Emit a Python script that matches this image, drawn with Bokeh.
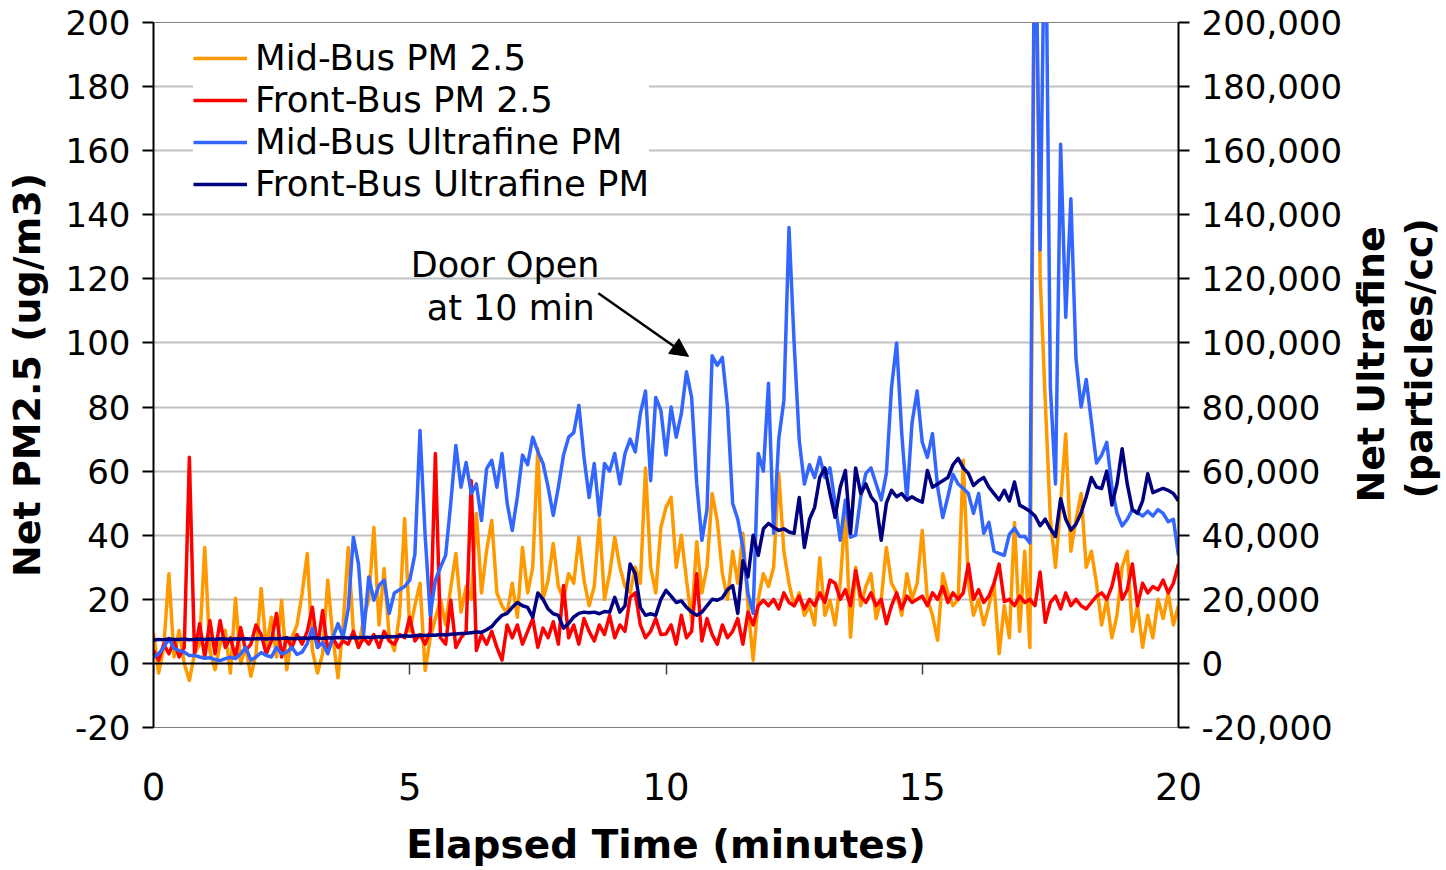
import numpy as np
from bokeh.plotting import figure
from bokeh.layouts import row
from bokeh.models import (Range1d, LinearAxis, FixedTicker, NumeralTickFormatter,
                          Legend, LegendItem, Label, Arrow, NormalHead, ColumnDataSource)
from bokeh.embed import file_html
from bokeh.resources import INLINE

# ---------------- data ----------------
elapsed_min = np.linspace(0, 20, 201)

mid_pm25 = [
    9.4, -3.0, 5.0, 28.0, 2.0, 10.3, 0.0, -5.3, 3.0, 6.0,
    36.2, 4.0, -2.0, 6.0, 10.3, -3.0, 20.3, 0.0, 5.0, -4.0,
    3.0, 23.4, 5.0, 14.4, 2.0, 19.7, -2.0, 8.0, 12.0, 21.8,
    34.3, 4.0, -3.0, 3.0, 26.0, 8.0, -4.5, 12.0, 36.2, 10.0,
    5.0, 14.0, 20.0, 42.4, 12.0, 29.6, 8.0, 4.0, 15.0, 45.2,
    10.0, 18.0, 25.0, -2.2, 8.0, 14.0, 20.0, 12.0, 23.7, 34.3,
    16.0, 24.0, 20.0, 46.8, 22.0, 35.3, 44.6, 22.0, 18.0, 15.6,
    25.0, 14.4, 36.2, 22.0, 30.0, 67.0, 20.0, 26.0, 37.4, 24.0,
    20.0, 28.0, 25.0, 39.4, 26.0, 18.0, 24.0, 45.2, 20.0, 28.0,
    39.4, 30.0, 24.0, 22.0, 30.0, 25.0, 61.0, 30.0, 22.0, 42.4,
    48.7, 51.8, 30.0, 40.0, 26.0, 13.4, 38.0, 22.0, 30.0, 53.0,
    44.6, 28.0, 20.0, 35.0, 25.0, 40.6, 18.0, 1.0, 20.0, 28.0,
    24.0, 30.0, 59.3, 35.0, 25.0, 18.0, 22.0, 15.0, 18.0, 12.0,
    33.0, 15.0, 19.7, 12.0, 25.0, 47.7, 8.2, 30.0, 18.0, 24.0,
    28.0, 14.0, 20.0, 36.2, 25.0, 22.0, 15.0, 28.0, 20.0, 25.0,
    41.5, 20.0, 15.0, 7.2, 28.0, 22.0, 18.0, 20.0, 63.4, 25.0,
    15.0, 20.0, 12.0, 18.0, 25.0, 3.0, 18.0, 8.0, 44.0, 10.0,
    35.0, 5.0, 250.0, 121.0, 82.0, 45.0, 30.0, 50.0, 71.6, 35.0,
    45.0, 53.0, 30.0, 35.0, 25.0, 12.0, 20.0, 8.0, 15.0, 30.0,
    35.0, 10.0, 18.0, 5.0, 15.0, 8.0, 20.0, 14.0, 22.0, 12.0, 18.0,
]

front_pm25 = [
    4.1, 1.0, 6.0, 3.0, 7.0, 2.0, 5.0, 64.3, 3.0, 12.4,
    2.0, 13.4, 3.0, 13.4, 5.0, 8.0, 2.0, 11.2, 4.0, 6.0,
    12.0, 9.0, 3.0, 7.0, 15.6, 2.0, 8.0, 5.0, 9.0, 6.0,
    10.0, 17.5, 5.0, 16.5, 4.0, 8.0, 5.0, 7.0, 6.0, 10.0,
    5.0, 8.0, 6.0, 9.0, 5.0, 10.0, 7.0, 6.0, 9.0, 8.0,
    14.4, 7.0, 9.0, 6.0, 10.0, 65.5, 8.0, 6.0, 19.7, 5.0,
    8.0, 10.0, 57.0, 4.0, 9.0, 6.0, 10.0, 5.0, 1.0, 12.0,
    8.0, 12.0, 6.0, 10.0, 14.0, 5.0, 11.0, 8.0, 13.0, 6.0,
    24.3, 8.0, 12.0, 6.0, 14.0, 10.0, 7.0, 12.0, 9.0, 15.0,
    8.0, 12.0, 10.0, 20.6, 22.0, 12.0, 8.0, 10.0, 14.0, 9.0,
    9.2, 12.0, 6.0, 15.0, 8.0, 10.0, 28.0, 7.0, 14.0, 9.0,
    6.0, 12.0, 8.0, 10.0, 14.0, 6.0, 16.0, 12.0, 18.0, 19.7,
    18.0, 20.0, 17.0, 22.0, 19.0, 18.0, 21.0, 17.0, 20.0, 18.0,
    22.0, 19.0, 26.0, 25.0, 20.0, 23.0, 18.0, 29.0, 21.0, 19.0,
    22.0, 18.0, 20.0, 12.4, 18.0, 22.0, 17.0, 21.0, 19.0, 20.0,
    21.0, 18.0, 22.0, 20.0, 24.0, 19.0, 22.0, 20.0, 22.0, 31.0,
    20.0, 23.0, 19.0, 21.0, 25.0, 31.0, 19.3, 20.0, 18.0, 21.0,
    19.0, 20.0, 18.0, 28.5, 12.8, 19.0, 21.0, 17.0, 22.0, 18.0,
    20.0, 18.0, 17.0, 19.0, 21.0, 22.0, 20.0, 24.0, 31.0, 20.0,
    23.0, 31.0, 18.0, 25.0, 22.0, 24.0, 23.0, 26.0, 22.0, 25.0, 31.0,
]

# ultrafine counts in thousands of particles/cc
mid_ufp_thousand = [
    1.9, 3.0, 5.0, 7.8, 4.7, 4.0, 3.5, 2.5, 2.5, 2.0,
    1.6, 1.8, 1.2, 0.9, 1.5, 1.9, 1.5, 3.0, 5.0, 1.0,
    2.0, 3.4, 2.5, 2.0, 5.0, 3.0, 3.5, 5.0, 2.8, 3.5,
    6.2, 11.0, 5.0, 6.5, 3.0, 8.0, 12.4, 8.2, 17.0, 39.4,
    31.0, 9.2, 27.0, 19.7, 24.3, 26.0, 15.6, 22.0, 23.0, 24.0,
    26.0, 34.0, 72.7, 40.0, 15.0, 26.0, 30.0, 33.7, 50.0, 68.0,
    55.0, 62.7, 53.0, 56.0, 44.6, 60.8, 63.4, 55.0, 65.5, 50.0,
    41.5, 52.0, 65.0, 62.0, 70.6, 66.0, 62.4, 55.0, 46.2, 55.0,
    65.0, 70.6, 72.0, 80.5, 64.3, 51.8, 62.4, 46.2, 62.4, 60.0,
    65.5, 56.0, 65.5, 70.0, 66.0, 78.0, 85.0, 57.0, 83.0, 79.0,
    65.0, 80.0, 70.6, 78.0, 91.0, 83.0, 56.0, 38.4, 48.0, 96.0,
    93.0, 95.5, 80.0, 50.0, 45.0, 36.2, 21.8, 15.6, 65.5, 60.0,
    87.4, 40.6, 70.0, 82.0, 136.0, 100.0, 69.6, 56.0, 62.0, 58.0,
    64.3, 58.0, 61.0, 50.0, 38.4, 51.0, 39.4, 40.0, 52.0, 59.3,
    61.0, 56.0, 51.0, 59.3, 86.0, 100.0, 71.7, 51.0, 75.0, 85.0,
    69.0, 64.3, 71.7, 55.0, 45.5, 52.0, 59.0, 56.0, 54.6, 53.0,
    46.8, 53.0, 40.6, 44.0, 35.0, 34.3, 33.7, 40.3, 42.2, 39.6,
    39.6, 37.6, 250.0, 129.0, 250.0, 86.0, 56.0, 162.0, 108.0, 145.0,
    95.0, 80.0, 88.6, 75.5, 62.5, 65.0, 69.0, 55.0, 46.8, 42.9,
    45.0, 48.0, 47.0, 46.0, 47.5, 46.0, 48.0, 46.8, 44.2, 45.0, 33.7,
]

front_ufp_thousand = [
    7.2, 7.5, 7.4, 7.6, 7.5, 7.5, 7.6, 7.4, 7.5, 7.6,
    7.5, 7.6, 7.5, 7.7, 7.6, 7.5, 7.7, 7.6, 7.7, 7.6,
    7.7, 7.8, 7.6, 7.8, 7.7, 7.8, 7.9, 7.7, 7.8, 7.9,
    7.8, 8.0, 7.9, 7.8, 8.0, 7.9, 8.1, 8.0, 7.9, 8.1,
    8.0, 8.2, 8.1, 8.2, 8.3, 8.2, 8.4, 8.3, 8.5, 8.6,
    8.5, 8.6, 8.8, 8.7, 8.9, 8.8, 9.0, 8.9, 9.1, 9.2,
    9.3, 9.4, 9.6, 9.8, 9.7, 10.5, 11.5, 13.4, 15.0, 15.6,
    17.5, 19.0, 18.0, 17.5, 14.4, 22.0, 20.0, 17.0, 15.5, 15.0,
    11.0, 12.5, 14.5, 15.6, 16.0, 15.8, 16.0, 15.5, 16.2, 16.0,
    20.6, 16.0, 18.0, 31.0, 28.0, 17.5, 15.0, 15.5, 15.0, 20.0,
    22.8, 21.0, 19.0, 19.5, 17.5, 16.0, 15.0, 16.0, 18.0, 20.0,
    19.7, 20.5, 23.0, 24.3, 15.6, 32.0, 27.0, 40.0, 33.7, 42.0,
    43.7, 42.5, 41.5, 42.0, 41.0, 40.6, 51.8, 36.2, 45.0, 48.7,
    58.0, 61.0, 53.0, 45.6, 55.0, 60.2, 40.6, 61.0, 53.0, 56.0,
    52.0, 50.0, 38.4, 50.0, 54.0, 52.0, 53.0, 51.0, 52.0, 51.0,
    50.3, 60.2, 55.0, 56.0, 57.0, 58.0, 62.0, 64.0, 61.0, 59.3,
    55.5, 57.0, 58.0, 55.0, 53.0, 51.0, 54.0, 50.7, 56.6, 49.4,
    48.5, 47.5, 46.0, 43.0, 45.0, 42.0, 39.6, 51.4, 45.0, 41.6,
    43.5, 47.0, 52.0, 58.0, 55.0, 54.6, 60.0, 49.4, 56.0, 67.0,
    56.0, 48.0, 46.8, 50.7, 59.2, 53.3, 54.0, 54.6, 54.0, 53.0, 50.7,
]

left_ticks = [-20, 0, 20, 40, 60, 80, 100, 120, 140, 160, 180, 200]
right_ticks = [-20000, 0, 20000, 40000, 60000, 80000, 100000, 120000, 140000, 160000, 180000, 200000]
grid_ticks = [20, 40, 60, 80, 100, 120, 140, 160, 180, 200]
x_ticks = [0, 5, 10, 15, 20]

series_names = ["Mid-Bus PM 2.5", "Front-Bus PM 2.5", "Mid-Bus Ultrafine PM", "Front-Bus Ultrafine PM"]
series_colors = ["#FF9900", "#FF0000", "#3366FF", "#000080"]

FONT = "DejaVu Sans"
H = 870
MAIN_W, RIGHT_W = 1348, 96
TOP, BOTTOM = 22, 143

p = figure(width=MAIN_W, height=H, x_range=Range1d(0, 20), y_range=Range1d(-20, 200),
           output_backend="svg", toolbar_location=None,
           x_axis_location=None, y_axis_location=None,
           min_border_left=153, min_border_right=MAIN_W - 1178,
           min_border_top=TOP, min_border_bottom=BOTTOM)
p.extra_y_ranges = {"ufp": Range1d(-20000, 200000)}
p.background_fill_color = "white"
p.border_fill_color = "white"
p.outline_line_color = "#808080"
p.outline_line_width = 1

def style_y(ax):
    ax.axis_line_color = "black"
    ax.axis_line_width = 2
    ax.major_tick_line_color = "black"
    ax.major_tick_line_width = 2
    ax.major_tick_out = 11
    ax.major_tick_in = 0
    ax.minor_tick_line_color = None
    ax.major_label_text_font = FONT
    ax.major_label_text_font_size = "34px"
    ax.major_label_text_color = "black"
    ax.major_label_standoff = 12

yl = LinearAxis(ticker=FixedTicker(ticks=left_ticks), formatter=NumeralTickFormatter(format="0"))
style_y(yl)
yl.axis_label = "Net PM2.5 (ug/m3)"
yl.axis_label_text_font = FONT
yl.axis_label_text_font_style = "bold"
yl.axis_label_text_font_size = "38px"
yl.axis_label_text_color = "black"
yl.axis_label_standoff = 14
p.add_layout(yl, "left")

yr = LinearAxis(y_range_name="ufp", ticker=FixedTicker(ticks=right_ticks),
                formatter=NumeralTickFormatter(format="0,0"))
style_y(yr)
p.add_layout(yr, "right")

# x axis line through zero with its tick marks
x_zero = LinearAxis(fixed_location=0, ticker=FixedTicker(ticks=x_ticks),
                    formatter=NumeralTickFormatter(format="0"))
x_zero.axis_line_color = "black"
x_zero.axis_line_width = 2
x_zero.major_tick_line_color = "#404040"
x_zero.major_tick_line_width = 1.5
x_zero.major_tick_out = 11
x_zero.major_tick_in = 0
x_zero.minor_tick_line_color = None
x_zero.major_label_text_font = FONT
x_zero.major_label_text_font_size = "37px"
x_zero.major_label_text_color = "black"
x_zero.major_label_standoff = 91
p.add_layout(x_zero, "below")

# tick labels and title below the plot area
xb = LinearAxis(ticker=FixedTicker(ticks=x_ticks), formatter=NumeralTickFormatter(format="0"))
xb.axis_line_color = None
xb.major_tick_line_color = None
xb.minor_tick_line_color = None
xb.major_tick_out = 0
xb.major_tick_in = 0
xb.major_label_text_font = FONT
xb.major_label_text_font_size = "37px"
xb.major_label_text_color = "black"
xb.major_label_standoff = 45
xb.axis_label = "Elapsed Time (minutes)"
xb.axis_label_text_font = FONT
xb.axis_label_text_font_style = "bold"
xb.axis_label_text_font_size = "39px"
xb.axis_label_text_color = "black"
xb.axis_label_standoff = 19
p.add_layout(xb, "below")

p.xgrid.visible = False
p.ygrid.ticker = FixedTicker(ticks=grid_ticks)
p.ygrid.grid_line_color = "#C0C0C0"
p.ygrid.grid_line_width = 2

src = ColumnDataSource(dict(t=elapsed_min,
                            mid_pm=mid_pm25, front_pm=front_pm25,
                            mid_uf=np.array(mid_ufp_thousand) * 1000.0,
                            front_uf=np.array(front_ufp_thousand) * 1000.0))
LW = 3.5
r_mid_pm = p.line("t", "mid_pm", source=src, color=series_colors[0], line_width=LW, line_join="round")
r_front_pm = p.line("t", "front_pm", source=src, color=series_colors[1], line_width=LW, line_join="round")
r_mid_uf = p.line("t", "mid_uf", source=src, color=series_colors[2], line_width=LW, line_join="round",
                  y_range_name="ufp")
r_front_uf = p.line("t", "front_uf", source=src, color=series_colors[3], line_width=LW, line_join="round",
                    y_range_name="ufp")

legend = Legend(items=[LegendItem(label=n, renderers=[r]) for n, r in
                       zip(series_names, [r_mid_pm, r_front_pm, r_mid_uf, r_front_uf])],
                location=(40, 523), orientation="vertical",
                label_text_font=FONT, label_text_font_size="35.5px", label_text_color="black",
                glyph_width=54, glyph_height=40, label_height=40, spacing=1,
                label_standoff=8, padding=6, margin=0,
                background_fill_color="white", background_fill_alpha=1.0,
                border_line_color=None)
p.add_layout(legend, "center")

p.add_layout(Label(x=6.86, y=124.2, text="Door Open", text_align="center", text_baseline="alphabetic",
                   text_font=FONT, text_font_size="35px", text_color="black"))
p.add_layout(Label(x=6.97, y=110.8, text="at 10 min", text_align="center", text_baseline="alphabetic",
                   text_font=FONT, text_font_size="35px", text_color="black"))
p.add_layout(Arrow(x_start=8.68, y_start=115.5, x_end=10.44, y_end=95.8,
                   line_color="black", line_width=2.5,
                   end=NormalHead(size=18, fill_color="black", line_color="black")))

# ---------------- right-hand panel with the rotated two-line title ----------------
rp = figure(width=RIGHT_W, height=H, x_range=Range1d(0, RIGHT_W), y_range=Range1d(-20, 200),
            output_backend="svg", toolbar_location=None,
            x_axis_location=None, y_axis_location=None,
            min_border_left=0, min_border_right=0, min_border_top=TOP, min_border_bottom=BOTTOM)
rp.grid.visible = False
rp.outline_line_color = None
rp.background_fill_color = "white"
rp.border_fill_color = "white"
title_style = dict(text_font=FONT, text_font_style="bold", text_color="black", text_font_size="38px",
                   angle=np.pi / 2, text_align="center", text_baseline="middle")
rp.add_layout(Label(x=1370 - MAIN_W, y=93.3, text="Net Ultrafine", **title_style))
rp.add_layout(Label(x=1418 - MAIN_W, y=95.2, text="(particles/cc)", **title_style))

open("out.html", "w").write(file_html(row(p, rp), INLINE))
